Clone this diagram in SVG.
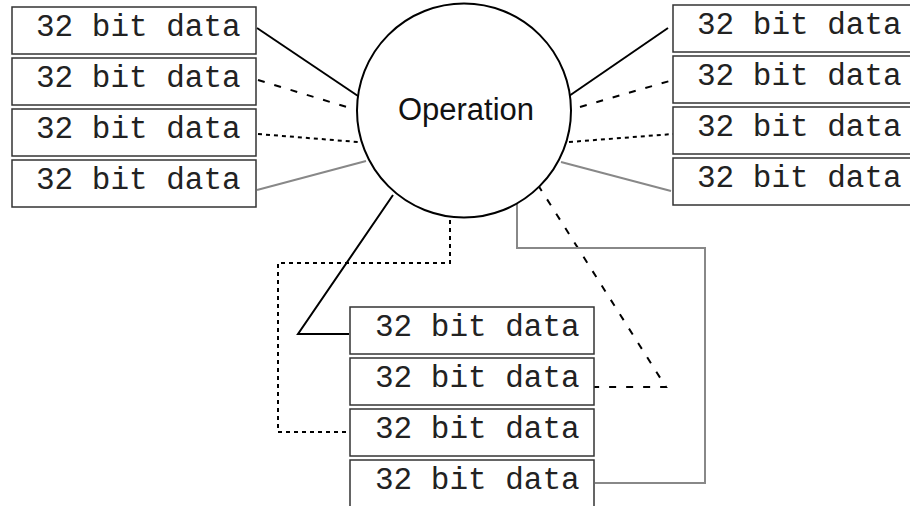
<svg xmlns="http://www.w3.org/2000/svg" width="910" height="506" viewBox="0 0 910 506">
  <style>
    .box rect { fill: #ffffff; stroke: #333333; stroke-width: 1.5; }
    .box text { font-family: "Liberation Mono", "Courier New", monospace; font-size: 31px; fill: #222222; }
    .op circle { fill: #ffffff; stroke: #000000; stroke-width: 2; }
    .op text { font-family: "Liberation Sans", Arial, sans-serif; font-size: 31px; fill: #111111; text-anchor: middle; }
    .wire { fill: none; stroke-width: 2; }
    .solid { stroke: #000000; }
    .dash { stroke: #000000; stroke-dasharray: 7 10; }
    .dot { stroke: #000000; stroke-dasharray: 4 4; }
    .grey { stroke: #888888; }
  </style>

  <!-- connectors -->
  <g id="connectors">
    <!-- left column -->
    <line class="wire solid" x1="257" y1="28" x2="358" y2="96"/>
    <line class="wire dash" x1="258" y1="80" x2="350" y2="108"/>
    <line class="wire dot" x1="258" y1="134" x2="358" y2="142"/>
    <line class="wire grey" x1="257" y1="190" x2="366" y2="161"/>
    <!-- right column -->
    <line class="wire solid" x1="569" y1="96" x2="668" y2="28"/>
    <line class="wire dash" x1="580" y1="107" x2="673" y2="80"/>
    <line class="wire dot" x1="569" y1="142" x2="673" y2="134"/>
    <line class="wire grey" x1="561" y1="162" x2="671" y2="191"/>
    <!-- bottom column -->
    <polyline class="wire solid" points="393,195 298,334 349,334"/>
    <polyline class="wire dash" points="538,185 666,387 594,387"/>
    <polyline class="wire dot" points="450,220 450,263 278,263 278,432 350,432"/>
    <polyline class="wire grey" points="517,203 517,248 705,248 705,483 595,483"/>
  </g>

  <!-- operation node -->
  <g id="operation" class="op">
    <circle cx="464" cy="110.5" r="107"/>
    <text x="466" y="120">Operation</text>
  </g>

  <!-- left data words -->
  <g id="left-1" class="box"><rect x="12" y="7" width="244" height="47"/><text x="36" y="36">32 bit data</text></g>
  <g id="left-2" class="box"><rect x="12" y="58" width="244" height="47"/><text x="36" y="87">32 bit data</text></g>
  <g id="left-3" class="box"><rect x="12" y="109" width="244" height="47"/><text x="36" y="138">32 bit data</text></g>
  <g id="left-4" class="box"><rect x="12" y="160" width="244" height="47"/><text x="36" y="189">32 bit data</text></g>

  <!-- right data words -->
  <g id="right-1" class="box"><rect x="673" y="5" width="244" height="47"/><text x="697" y="34">32 bit data</text></g>
  <g id="right-2" class="box"><rect x="673" y="56" width="244" height="47"/><text x="697" y="85">32 bit data</text></g>
  <g id="right-3" class="box"><rect x="673" y="107" width="244" height="47"/><text x="697" y="136">32 bit data</text></g>
  <g id="right-4" class="box"><rect x="673" y="158" width="244" height="47"/><text x="697" y="187">32 bit data</text></g>

  <!-- bottom data words -->
  <g id="bottom-1" class="box"><rect x="350" y="307" width="244" height="47"/><text x="375" y="336">32 bit data</text></g>
  <g id="bottom-2" class="box"><rect x="350" y="358" width="244" height="47"/><text x="375" y="387">32 bit data</text></g>
  <g id="bottom-3" class="box"><rect x="350" y="409" width="244" height="47"/><text x="375" y="438">32 bit data</text></g>
  <g id="bottom-4" class="box"><rect x="350" y="460" width="244" height="47"/><text x="375" y="489">32 bit data</text></g>
</svg>
